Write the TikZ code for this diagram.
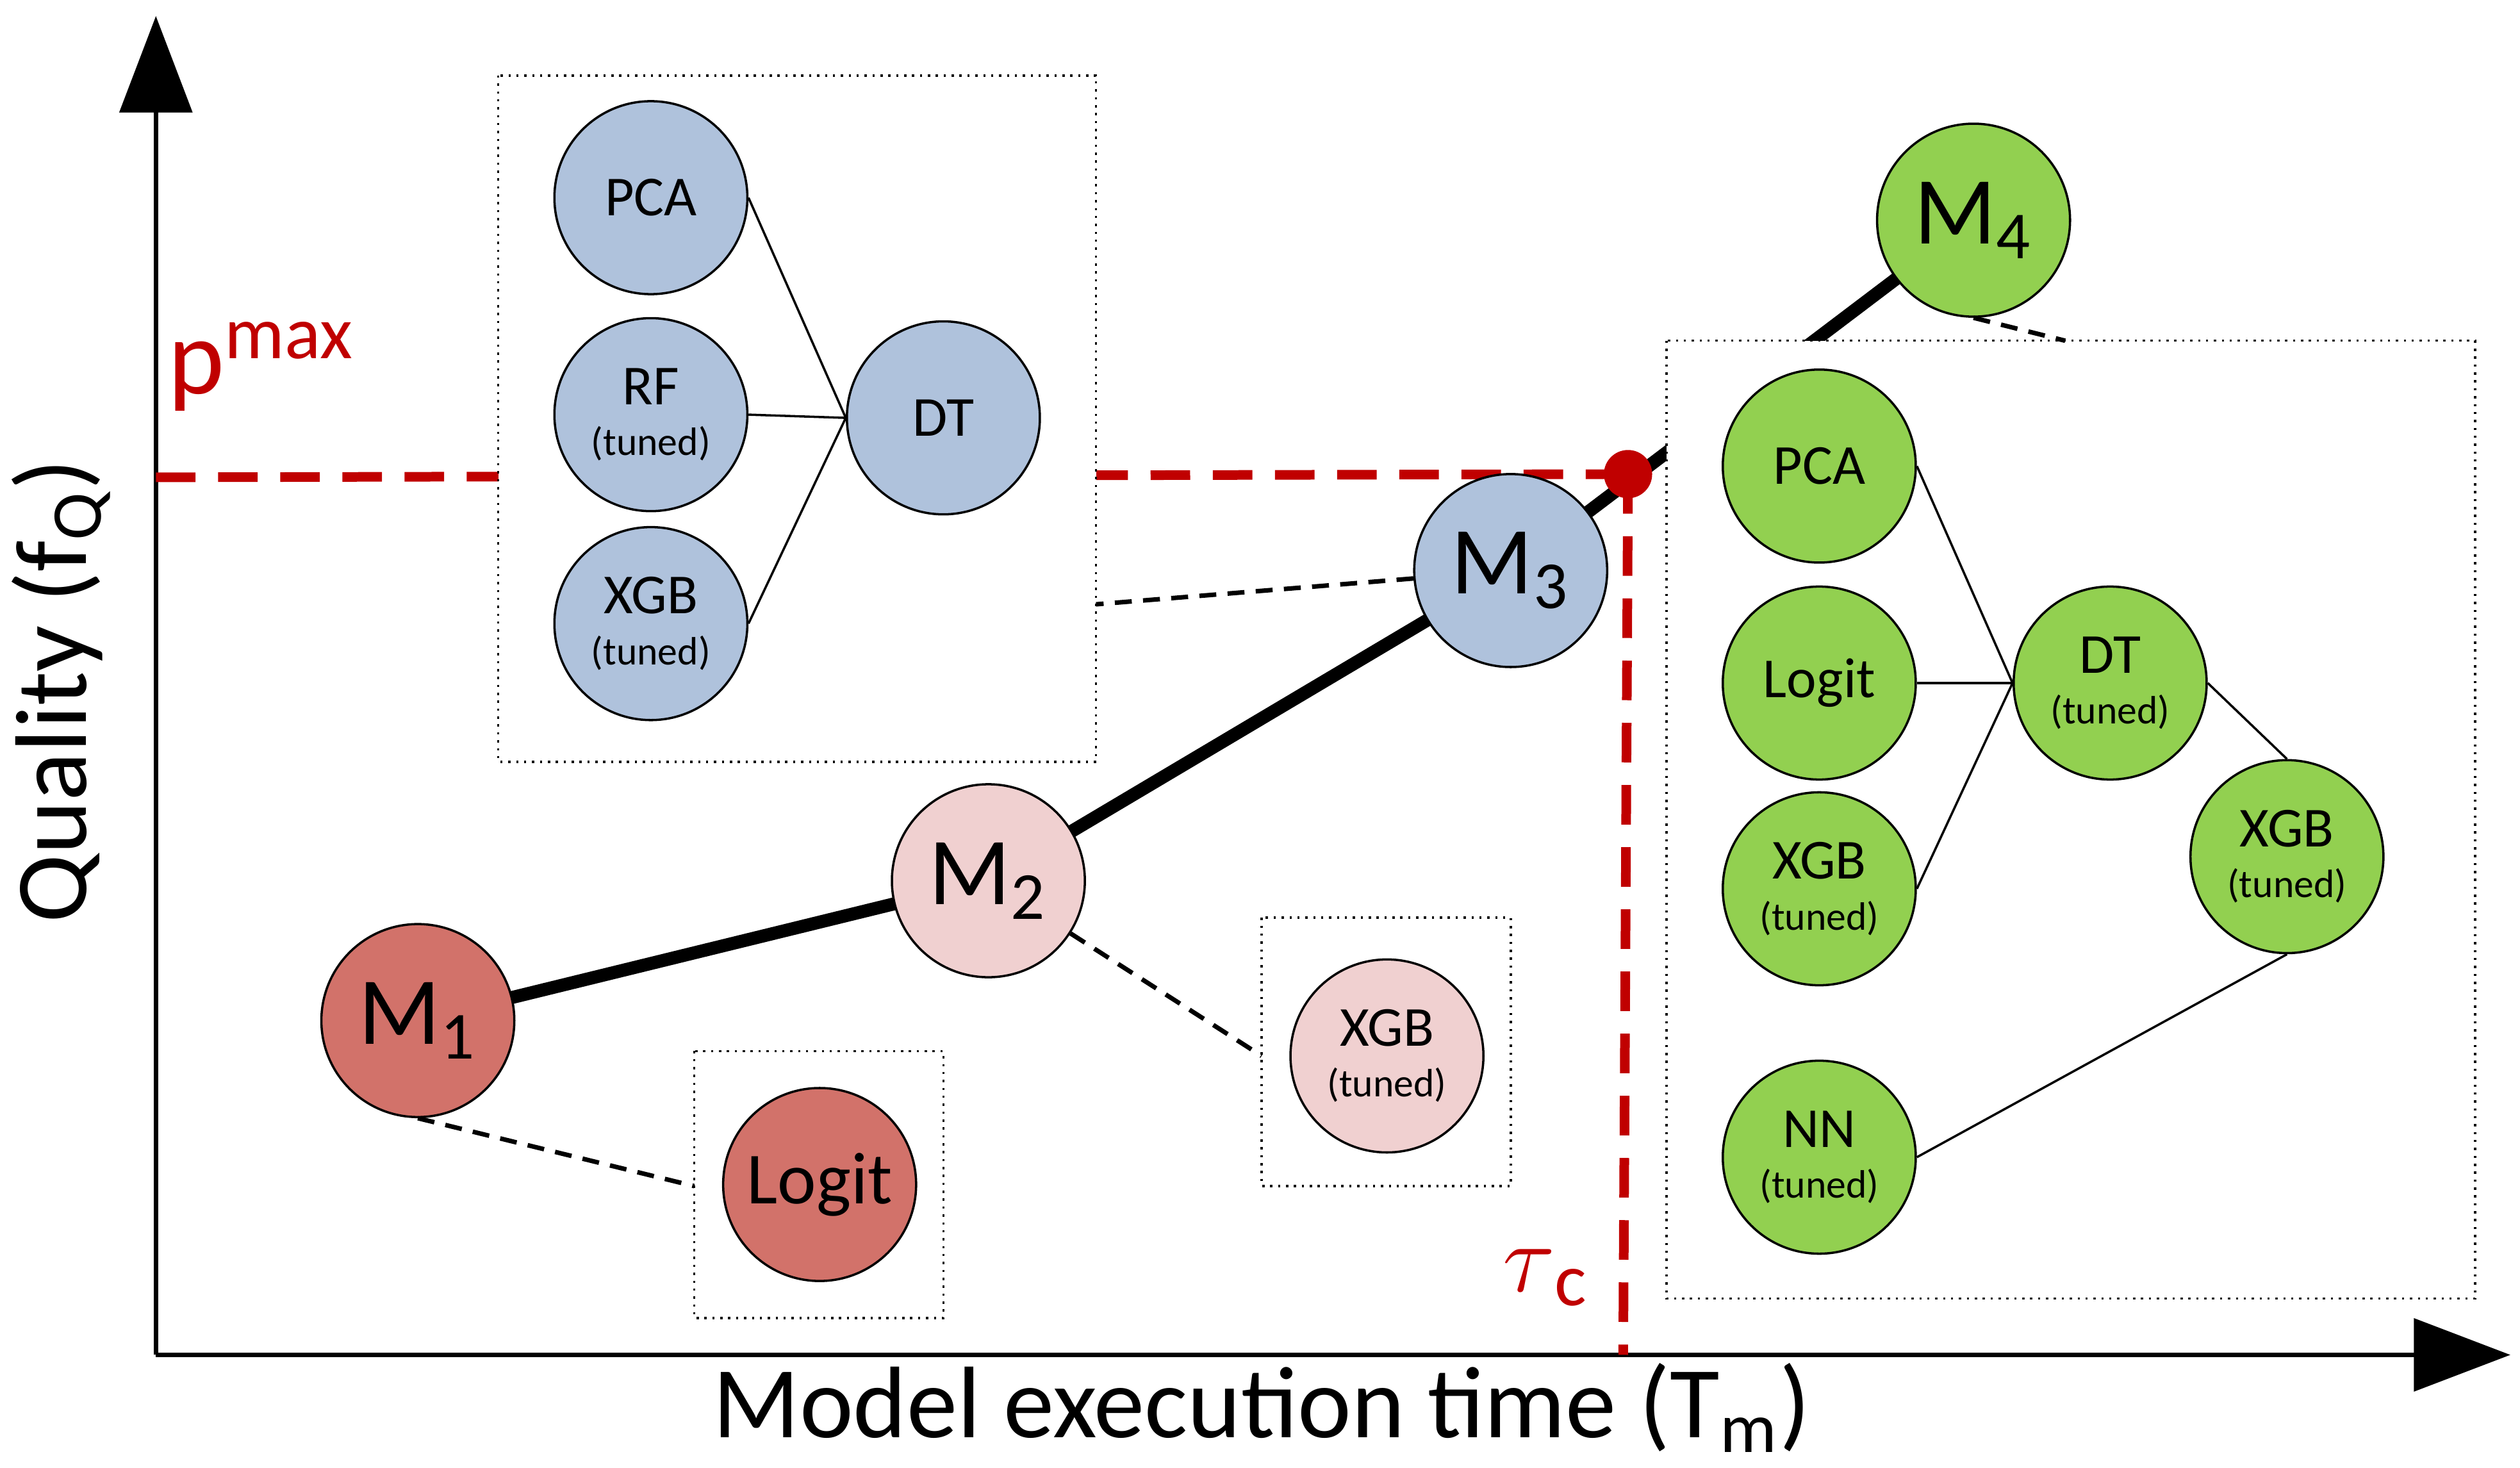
\documentclass[tikz,border=0pt]{standalone}
\usepackage{fontspec}
\setmainfont{Carlito}
\usetikzlibrary{arrows.meta,positioning}
\definecolor{mred}{HTML}{D2726A}
\definecolor{mpink}{HTML}{F0D0D0}
\definecolor{mblue}{HTML}{AFC2DC}
\definecolor{mgreen}{HTML}{92D050}
\definecolor{dred}{HTML}{C00000}
\begin{document}
\begin{tikzpicture}[
    x=0.01cm, y=-0.01cm,
    model/.style={circle, draw, minimum size=1.2cm, inner sep=0pt, font=\fontsize{17}{17}\selectfont},
    algo/.style={circle, draw, minimum size=1.2cm, inner sep=0pt, align=center, font=\fontsize{10}{11}\selectfont},
    box/.style={draw, densely dotted, fill=white},
    link/.style={densely dashed, thick},
    axis/.style={line width=0.8pt, -{Triangle[length=0.6cm,width=0.45cm]}},
    limit/.style={dred, line width=1.7pt, dash pattern=on 7pt off 4pt}
]
\newcommand{\tnd}{\\[-2pt]{\fontsize{7}{7}\selectfont (tuned)}}
\useasboundingbox (0,0) rectangle (1568,913);

% axes
\coordinate (origin) at (97,843);
\coordinate (ytop) at (97,10);
\coordinate (xend) at (1562,843);
\draw[axis] (origin) -- (ytop);
\draw[axis] (origin) -- (xend);
\node[rotate=90, font=\fontsize{18}{18}\selectfont] (ylab) at (38,430) {Quality (f\textsubscript{Q})};
\node[font=\fontsize{18}{18}\selectfont] (xlab) at (785,876) {Model execution time (T\textsubscript{m})};

% model path
\coordinate (c1) at (260,635);
\coordinate (c2) at (615,548);
\coordinate (c3) at (940,355);
\coordinate (c4) at (1228,137);
\draw[line width=2.3pt] (c1) -- (c2) -- (c3) -- (c4);

% limits
\coordinate (py) at (97,297);
\coordinate (tx) at (1010,843);
\coordinate (opt) at (1013,295);
\draw[limit] (py) -- (opt);
\draw[limit] (opt) -- (tx);
\node[dred, font=\fontsize{19}{19}\selectfont] (pmax) at (163,228) {p\textsuperscript{max}};
\node[dred, font=\fontsize{19}{19}\selectfont] (tau) at (962,795) {$\tau$\textsubscript{c}};

% boxes
\draw[box] (310,47) rectangle (682,474);
\draw[box] (1037,212) rectangle (1540,808);
\draw[box] (785,571) rectangle (940,738);
\draw[box] (432,654) rectangle (587,820);
\node[circle, fill=dred, minimum size=0.3cm, inner sep=0pt] (dot) at (opt) {};

% models
\node[model, fill=mred] (m1) at (c1) {M\textsubscript{1}};
\node[model, fill=mpink] (m2) at (c2) {M\textsubscript{2}};
\node[model, fill=mblue] (m3) at (c3) {M\textsubscript{3}};
\node[model, fill=mgreen] (m4) at (c4) {M\textsubscript{4}};

% pipeline of M3
\node[algo, fill=mblue] (pca3) at (405,123) {PCA};
\node[algo, fill=mblue] (rf3) at (405,258) {RF\tnd};
\node[algo, fill=mblue] (xgb3) at (405,388) {XGB\tnd};
\node[algo, fill=mblue] (dt3) at (587,260) {DT};
\foreach \a in {pca3,rf3,xgb3} \draw (\a.east) -- (dt3.west);

% pipeline of M4
\node[algo, fill=mgreen] (pca4) at (1132,290) {PCA};
\node[algo, fill=mgreen] (log4) at (1132,425) {Logit};
\node[algo, fill=mgreen] (xgb4) at (1132,553) {XGB\tnd};
\node[algo, fill=mgreen] (nn4) at (1132,720) {NN\tnd};
\node[algo, fill=mgreen] (dt4) at (1313,425) {DT\tnd};
\node[algo, fill=mgreen] (xgb4b) at (1423,533) {XGB\tnd};
\foreach \a in {pca4,log4,xgb4} \draw (\a.east) -- (dt4.west);
\draw (dt4.east) -- (xgb4b.north);
\draw (nn4.east) -- (xgb4b.south);

% single algorithms
\node[algo, fill=mpink] (xgb2) at (863,657) {XGB\tnd};
\node[algo, fill=mred, font=\fontsize{13}{13}\selectfont] (log1) at (510,737) {Logit};

% links
\coordinate (b1) at (682,376);
\coordinate (b2) at (785,657);
\coordinate (b3) at (432,738);
\coordinate (b4) at (1285,212);
\draw[link] (m3) -- (b1);
\draw[link] (m2) -- (b2);
\draw[link] (m1.south) -- (b3);
\draw[link] (m4.south) -- (b4);
\end{tikzpicture}
\end{document}
